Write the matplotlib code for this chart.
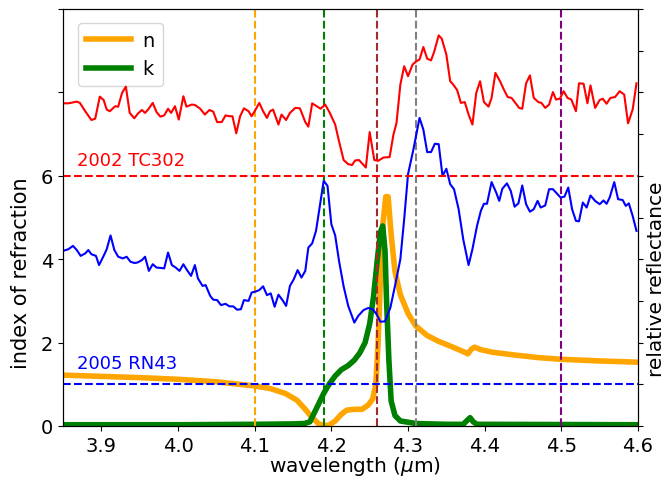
import numpy as np
import matplotlib
matplotlib.use('Agg')
import matplotlib.pyplot as plt

plt.rcParams['font.size'] = 14

# optical constants (n, k)
wl_n = [3.85, 3.90, 3.95, 4.00, 4.05, 4.08, 4.10, 4.12, 4.14, 4.155, 4.165, 4.175, 4.183,
        4.19, 4.197, 4.205, 4.213, 4.22, 4.23, 4.24, 4.248, 4.254, 4.258, 4.261, 4.264,
        4.267, 4.271, 4.274, 4.278, 4.283, 4.29, 4.30, 4.31, 4.325, 4.34, 4.36, 4.375,
        4.378, 4.383, 4.387, 4.395, 4.41, 4.44, 4.47, 4.50, 4.55, 4.60]
n_vals = [1.22, 1.19, 1.16, 1.12, 1.06, 1.00, 0.96, 0.90, 0.78, 0.62, 0.42, 0.20, 0.06,
          0.01, 0.02, 0.12, 0.28, 0.38, 0.40, 0.40, 0.50, 0.65, 1.0, 2.0, 3.5,
          4.8, 5.5, 5.5, 4.6, 3.7, 3.15, 2.7, 2.4, 2.17, 2.03, 1.88, 1.76,
          1.73, 1.85, 1.89, 1.83, 1.77, 1.70, 1.64, 1.60, 1.56, 1.53]

wl_k = [3.85, 4.00, 4.10, 4.15, 4.165, 4.172, 4.18, 4.19, 4.197, 4.205, 4.213, 4.222,
        4.23, 4.237, 4.244, 4.25, 4.255, 4.26, 4.264, 4.267, 4.27, 4.272, 4.275, 4.278,
        4.283, 4.29, 4.31, 4.35, 4.372, 4.378, 4.381, 4.385, 4.39, 4.60]
k_vals = [0.03, 0.03, 0.04, 0.05, 0.06, 0.10, 0.40, 0.78, 1.0, 1.2, 1.35, 1.45,
          1.58, 1.75, 2.0, 2.45, 3.1, 4.0, 4.65, 4.8, 4.2, 3.0, 1.6, 0.6,
          0.25, 0.12, 0.06, 0.04, 0.04, 0.15, 0.2, 0.1, 0.04, 0.03]

# 2002 TC302 spectrum (offset 6)
wl_tc = [3.85, 3.857, 3.868, 3.872, 3.879, 3.887, 3.892, 3.898, 3.903, 3.907, 3.911, 3.918,
         3.922, 3.927, 3.932, 3.937, 3.943, 3.948, 3.953, 3.957, 3.961, 3.967, 3.972, 3.977,
         3.982, 3.987, 3.991, 3.996, 4.001, 4.007, 4.011, 4.018, 4.022, 4.029, 4.035, 4.041,
         4.046, 4.051, 4.057, 4.062, 4.067, 4.071, 4.076, 4.081, 4.086, 4.092, 4.096, 4.100,
         4.106, 4.111, 4.116, 4.120, 4.124, 4.131, 4.135, 4.141, 4.146, 4.153, 4.159, 4.166,
         4.170, 4.175, 4.181, 4.186, 4.192, 4.198, 4.205, 4.210, 4.216, 4.222, 4.227, 4.231,
         4.236, 4.245, 4.250, 4.256, 4.261, 4.268, 4.276, 4.281, 4.285, 4.290, 4.295, 4.300,
         4.306, 4.311, 4.315, 4.320, 4.325, 4.330, 4.334, 4.340, 4.344, 4.350, 4.355, 4.359,
         4.364, 4.369, 4.374, 4.379, 4.384, 4.389, 4.394, 4.399, 4.405, 4.409, 4.414, 4.420,
         4.425, 4.430, 4.435, 4.440, 4.445, 4.449, 4.454, 4.459, 4.464, 4.470, 4.474, 4.479,
         4.484, 4.489, 4.493, 4.498, 4.503, 4.508, 4.513, 4.519, 4.523, 4.529, 4.534, 4.538,
         4.544, 4.550, 4.554, 4.559, 4.564, 4.570, 4.576, 4.582, 4.587, 4.593, 4.598]
r_tc = [7.74, 7.74, 7.78, 7.75, 7.55, 7.34, 7.37, 7.90, 7.82, 7.59, 7.55, 7.67,
        7.66, 7.99, 8.14, 7.51, 7.38, 7.50, 7.58, 7.51, 7.59, 7.75, 7.53, 7.42,
        7.45, 7.61, 7.51, 7.67, 7.35, 7.91, 7.66, 7.71, 7.70, 7.61, 7.47, 7.58,
        7.54, 7.29, 7.29, 7.45, 7.43, 7.43, 7.02, 7.43, 7.62, 7.55, 7.43, 7.55,
        7.75, 7.55, 7.39, 7.55, 7.59, 7.23, 7.47, 7.34, 7.51, 7.63, 7.62, 7.29,
        7.18, 7.74, 7.67, 7.61, 7.71, 7.51, 7.23, 6.83, 6.38, 6.28, 6.26, 6.37,
        6.38, 6.20, 7.05, 6.38, 6.36, 6.44, 6.45, 6.99, 7.27, 8.19, 8.63, 8.39,
        8.67, 8.75, 8.79, 9.09, 8.81, 8.77, 8.97, 9.37, 9.29, 8.91, 8.27, 8.19,
        8.06, 7.75, 7.77, 7.47, 7.23, 7.99, 8.27, 7.77, 7.66, 7.87, 8.47, 8.27,
        8.07, 7.89, 7.87, 7.75, 7.63, 7.61, 8.22, 8.41, 7.87, 7.77, 7.75, 7.63,
        7.71, 8.01, 7.83, 7.85, 8.03, 7.87, 7.83, 7.55, 8.22, 8.21, 7.74, 8.17,
        7.63, 7.82, 7.85, 7.73, 7.87, 7.89, 8.03, 7.95, 7.26, 7.59, 8.22]

# 2005 RN43 spectrum (offset 1)
wl_rn = [3.85, 3.857, 3.863, 3.868, 3.873, 3.879, 3.883, 3.887, 3.893, 3.897, 3.903, 3.907,
         3.912, 3.917, 3.922, 3.928, 3.933, 3.938, 3.943, 3.947, 3.953, 3.957, 3.962, 3.967,
         3.972, 3.978, 3.982, 3.987, 3.992, 3.997, 4.002, 4.007, 4.011, 4.017, 4.022, 4.026,
         4.032, 4.036, 4.042, 4.046, 4.051, 4.056, 4.062, 4.067, 4.072, 4.077, 4.082, 4.086,
         4.092, 4.096, 4.102, 4.106, 4.111, 4.116, 4.121, 4.126, 4.131, 4.137, 4.141, 4.146,
         4.151, 4.156, 4.161, 4.166, 4.170, 4.175, 4.180, 4.185, 4.190, 4.195, 4.200, 4.205,
         4.210, 4.216, 4.222, 4.230, 4.235, 4.242, 4.248, 4.254, 4.259, 4.264, 4.270, 4.277,
         4.283, 4.290, 4.295, 4.300, 4.307, 4.315, 4.320, 4.325, 4.330, 4.335, 4.340, 4.345,
         4.350, 4.355, 4.360, 4.366, 4.372, 4.379, 4.384, 4.390, 4.395, 4.399, 4.403, 4.409,
         4.415, 4.419, 4.423, 4.429, 4.434, 4.439, 4.444, 4.449, 4.454, 4.459, 4.464, 4.469,
         4.473, 4.479, 4.484, 4.489, 4.494, 4.499, 4.504, 4.509, 4.514, 4.519, 4.523, 4.528,
         4.533, 4.538, 4.544, 4.550, 4.555, 4.559, 4.563, 4.569, 4.574, 4.580, 4.584, 4.588,
         4.593, 4.598]
r_rn = [4.20, 4.24, 4.32, 4.22, 4.08, 4.14, 4.22, 4.12, 4.08, 3.86, 4.08, 4.24,
        4.57, 4.22, 4.06, 4.02, 4.06, 3.94, 3.91, 3.92, 3.98, 4.06, 3.72, 3.88,
        3.80, 3.79, 3.78, 4.16, 3.86, 3.80, 3.72, 3.88, 3.76, 3.60, 3.86, 3.54,
        3.36, 3.38, 3.12, 3.03, 3.02, 2.90, 2.93, 2.87, 2.87, 2.79, 2.80, 3.02,
        3.00, 3.20, 3.23, 3.26, 3.35, 3.14, 3.18, 2.86, 3.15, 3.00, 2.88, 3.36,
        3.52, 3.74, 3.56, 3.72, 4.28, 4.38, 4.68, 5.28, 5.88, 5.76, 4.84, 4.57,
        3.96, 3.35, 2.88, 2.48, 2.64, 2.78, 2.83, 2.80, 2.68, 2.50, 2.51, 2.84,
        3.36, 4.00, 4.96, 6.04, 6.63, 7.39, 7.11, 6.57, 6.57, 6.77, 6.76, 6.00,
        6.17, 5.80, 5.68, 5.20, 4.48, 3.86, 4.24, 4.80, 5.16, 5.33, 5.33, 5.85,
        5.60, 5.40, 5.69, 5.82, 5.64, 5.26, 5.34, 5.77, 5.32, 5.14, 5.20, 5.40,
        5.24, 5.29, 5.68, 5.68, 5.58, 5.48, 5.50, 5.72, 5.20, 4.92, 4.91, 5.36,
        5.24, 5.53, 5.40, 5.32, 5.41, 5.33, 5.48, 5.85, 5.44, 5.42, 5.28, 5.34,
        5.04, 4.68]

vlines = [4.10, 4.19, 4.26, 4.31, 4.50]
vcolors = ['orange', 'green', 'brown', 'grey', 'purple']

fig, ax = plt.subplots(figsize=(6.66, 4.81), dpi=100)
fig.subplots_adjust(left=0.0946, right=0.958, bottom=0.1123, top=0.979)

ax.plot(wl_n, n_vals, color='orange', lw=4, label='n')
ax.plot(wl_k, k_vals, color='green', lw=4, label='k')
for x, c in zip(vlines, vcolors):
    ax.axvline(x, color=c, ls='--', lw=1.5)

ax.set_xlim(3.85, 4.6)
ax.set_ylim(0, 10)
ax.set_yticks([0, 2, 4, 6, 8, 10])
ax.set_yticklabels(['0', '2', '4', '6', '', ''])
ax.set_xlabel(r'wavelength ($\mu$m)', fontsize=14.5)
ax.xaxis.set_label_coords(0.508, -0.068)
ax.set_ylabel('index of refraction', fontsize=15)
ax.yaxis.set_label_coords(-0.055, 0.37)
ax.legend(loc='upper left', bbox_to_anchor=(0.01, 0.99), handlelength=2.3,
          handletextpad=0.6)

ax2 = ax.twinx()
ax2.plot(wl_tc, r_tc, color='red', lw=1.5)
ax2.plot(wl_rn, r_rn, color='blue', lw=1.5)
ax2.axhline(6, color='red', ls='--', lw=1.5)
ax2.axhline(1, color='blue', ls='--', lw=1.5)
ax2.text(3.868, 6.27, '2002 TC302', color='red', fontsize=13)
ax2.text(3.868, 1.38, '2005 RN43', color='blue', fontsize=13)
ax2.set_ylim(0, 10)
ax2.set_yticks(range(11))
ax2.tick_params(axis='y', labelright=False)
ax2.set_ylabel('relative reflectance', fontsize=14.5)
ax2.yaxis.set_label_coords(1.016, 0.355)

plt.savefig('out.png')
